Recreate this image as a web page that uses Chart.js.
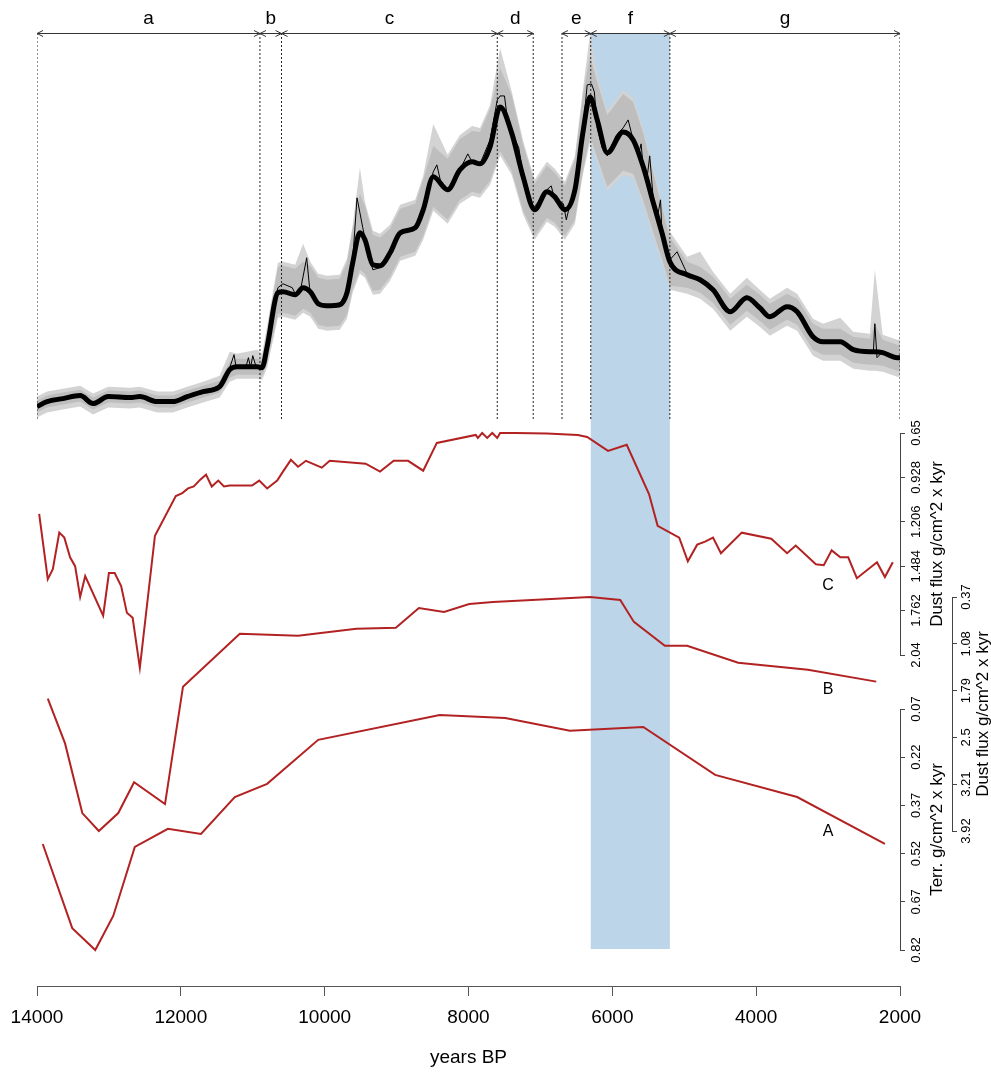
<!DOCTYPE html>
<html>
<head>
<meta charset="utf-8">
<script src="https://cdn.jsdelivr.net/npm/chart.js@4.4.1/dist/chart.umd.min.js"></script>
<style>
  html, body { margin: 0; padding: 0; background: #fff; }
  #wrap { position: relative; width: 991px; height: 1072px; }
  #wrap canvas { position: absolute; left: 0; }
</style>
</head>
<body>
<div id="wrap">
  <canvas id="main" width="991" height="1072" style="top:0"></canvas>
  <canvas id="dustC" width="991" height="282" style="top:403px"></canvas>
  <canvas id="dustB" width="991" height="294" style="top:567px"></canvas>
  <canvas id="terrA" width="991" height="301" style="top:679px"></canvas>
</div>
<script>
const FONT = "'Liberation Sans', Arial, Helvetica, sans-serif";
const RED = 'rgb(178,34,34)';

// top panel (no axis, arbitrary index units)
const topYears = [14000, 13860, 13640, 13400, 13220, 13010, 12710, 12570, 12330, 12110,
  11910, 11690, 11460, 11320, 11220, 10940, 10870, 10800, 10650, 10580,
  10410, 10300, 10200, 10090, 9970, 9790, 9690, 9610, 9510, 9440,
  9330, 9230, 9090, 8950, 8740, 8630, 8490, 8290, 8120, 7950,
  7840, 7700, 7560, 7400, 7240, 7080, 6910, 6800, 6660, 6520,
  6410, 6310, 6210, 6070, 5850, 5710, 5570, 5430, 5310, 5200,
  4960, 4780, 4600, 4360, 4130, 3950, 3810, 3570, 3430, 3210,
  3070, 2830, 2650, 2420, 2350, 2240, 2040, 2000];
const smoothed = [3.25, 4.5, 5.25, 6, 4, 5.75, 5.5, 5.75, 4.5, 4.5,
  5.75, 7, 8.25, 12.5, 13.25, 13.25, 13, 18.25, 31.75, 32,
  31.25, 33, 32, 29, 28.5, 28.75, 31.75, 39.25, 46.75, 45,
  38.75, 38.5, 41.75, 46.75, 48, 52.5, 60.75, 57.5, 62.5, 64.5,
  64, 68.25, 78.25, 71.75, 60.75, 52.5, 57, 55.75, 52.5, 57.5,
  71.75, 80.75, 75, 66.75, 72, 70, 63.25, 54.25, 46.75, 39.5,
  36.25, 35, 32.5, 27, 30.5, 28, 25.75, 28.25, 27, 20.75,
  19.5, 19.5, 17.5, 17, 17, 16.75, 15.5, 15.5];
const innerHi = [4.75, 6, 6.75, 7.5, 5.5, 7.25, 7, 7.25, 6, 6,
  7.25, 8.5, 9.75, 14.5, 15.25, 15.25, 15, 22.25, 38.25, 38.5,
  37.75, 39.5, 38.5, 35.5, 35, 35.25, 39.25, 47.75, 56.5, 53.5,
  46.25, 45.5, 47.75, 52.75, 54, 60, 68.5, 65.25, 70.25, 72.25,
  72, 77.75, 88, 81.25, 68.75, 59, 63.5, 61.75, 58.5, 65,
  81.25, 91, 84.5, 76.25, 81.5, 79.5, 71.75, 61.75, 53.25, 45.5,
  39.5, 38.25, 35.75, 30.25, 33.75, 31.25, 29, 31.5, 30.25, 24,
  22.75, 22.75, 20.75, 20.25, 24, 20, 18.75, 18.75];
const innerLo = [1.75, 3, 3.75, 4.5, 2.5, 4.25, 4, 4.25, 3, 3,
  4.25, 5.5, 6.75, 10.5, 11.25, 11.25, 11, 14.25, 26.5, 26.75,
  26, 27.75, 26.75, 23.75, 23.25, 23.5, 26.25, 32.75, 37.5, 36.5,
  32.25, 32.5, 35.75, 40.75, 42, 46, 53.25, 50, 55, 57,
  56.5, 59.75, 67.25, 62.25, 52.25, 46, 50.5, 49.25, 46, 50,
  62.25, 71, 65.5, 58.25, 62.25, 61.5, 54.75, 46.75, 40.25, 33.5,
  33, 31.75, 29.25, 23.75, 27.25, 24.75, 22.5, 25, 23.75, 17.5,
  16.25, 16.25, 14.25, 13.75, 13.75, 13.5, 12.25, 12.25];
const outerHi = [5.75, 7, 7.75, 8.5, 6.5, 8.25, 8, 8.25, 7, 7,
  8.25, 9.5, 11, 17, 16.5, 17.5, 16.5, 23.5, 39.25, 39.5,
  38.75, 44, 39.5, 36.5, 36, 36.25, 40.25, 48.75, 63, 54.5,
  47.25, 46.5, 48.75, 53.75, 55, 61, 74, 66.25, 71.25, 73.5,
  73, 78.75, 93, 82.25, 69.75, 60, 64.5, 62.75, 59.5, 66,
  82.5, 96.5, 86, 77.25, 82.5, 80.5, 72.75, 62.75, 54.25, 47,
  40.75, 42, 37, 31.5, 35.5, 32.5, 30.25, 33, 31.5, 25.25,
  24, 25.5, 22, 21.5, 37.5, 21.25, 20, 20];
const outerLo = [0.5, 1.75, 2.5, 3.25, 1.25, 3, 2.75, 3, 1.75, 1.75,
  3, 4.25, 5.5, 9.5, 10.25, 10.25, 10, 13, 25.5, 25.75,
  25, 26.75, 25.75, 22.75, 22.25, 22.5, 25.25, 31.75, 36.5, 35.5,
  31.25, 31.5, 34.75, 39.75, 41, 45, 52.25, 49, 54, 56,
  55.5, 58.75, 66, 61.25, 51.25, 45, 49.5, 48.25, 45, 49,
  61.25, 69.5, 64.5, 57.25, 61.25, 60.5, 53.75, 45.75, 39.25, 32.5,
  31.5, 30.25, 27.75, 22.25, 25.75, 23.25, 21, 23.5, 22.25, 16,
  14.75, 14.75, 12.75, 12.25, 12.25, 12, 10.75, 10.75];

const rawYears = [14000, 13860, 13640, 13400, 13220, 13010, 12710, 12570, 12330, 12110,
  11910, 11690, 11460, 11380, 11320, 11260, 11230, 11090, 11060, 11030,
  11000, 10950, 10900, 10850, 10800, 10700, 10650, 10580, 10450, 10410,
  10330, 10250, 10210, 10100, 9970, 9790, 9690, 9610, 9550, 9470,
  9400, 9330, 9230, 9090, 8950, 8740, 8630, 8490, 8440, 8380,
  8290, 8120, 8010, 7950, 7840, 7700, 7600, 7560, 7500, 7450,
  7400, 7300, 7240, 7100, 7050, 6910, 6850, 6800, 6680, 6640,
  6600, 6520, 6410, 6350, 6290, 6250, 6210, 6140, 6070, 6000,
  5950, 5850, 5780, 5710, 5640, 5600, 5570, 5520, 5480, 5430,
  5380, 5330, 5310, 5250, 5200, 5150, 5100, 4960, 4780, 4600,
  4500, 4360, 4130, 3950, 3810, 3570, 3430, 3350, 3210, 3070,
  2830, 2650, 2420, 2370, 2350, 2320, 2240, 2100, 2040, 2000];
const rawVals = [3.5, 4.5, 5.5, 6, 4, 6, 5.5, 6, 4.5, 4.5,
  6, 7, 8.5, 10, 13, 16.25, 13, 13.5, 15.5, 13,
  16, 13, 12.5, 13.5, 19, 29, 33, 34, 33, 31.5,
  33, 40.5, 33, 29, 28, 29, 32, 40, 55.5, 48,
  42, 37.5, 38, 42, 47, 48, 52.5, 62, 63.75, 59,
  57, 62.5, 66.5, 64.5, 64, 70, 80, 81, 81, 74,
  72, 68, 61, 53, 54, 57.5, 58.5, 55, 54, 50,
  53, 58, 72, 83.75, 84, 82, 73, 68, 66, 69,
  71, 73, 75, 70, 66, 69, 63, 60, 66, 55,
  50, 55, 47, 42, 40, 41, 42, 36.5, 35, 32.5,
  30, 27, 31, 28, 25.5, 28.5, 27, 25, 21, 19.5,
  19.5, 17.5, 17, 17, 24, 15.5, 17, 15.5, 15.5, 15.5];

const phaseBounds = [14000, 10900, 10600, 7600, 7100, 6700, 6300, 5200, 2000];
const phaseStart = [14000, 10900, 10600, 7600, 6700, 6300, 5200];
const phaseEnd = [10900, 10600, 7600, 7100, 6300, 5200, 2000];
const phaseLabels = ['a', 'b', 'c', 'd', 'e', 'f', 'g'];
const shadeFrom = 6300, shadeTo = 5200;

// C: dust flux
const cYears = [13970, 13850, 13780, 13690, 13620, 13540, 13470, 13400, 13330, 13080,
  13000, 12920, 12830, 12750, 12670, 12570, 12360, 12070, 11980, 11900,
  11820, 11730, 11650, 11570, 11480, 11400, 11320, 11010, 10910, 10800,
  10660, 10580, 10470, 10370, 10260, 10040, 9930, 9430, 9230, 9040,
  8840, 8630, 8440, 7900, 7870, 7810, 7740, 7670, 7600, 7560,
  7350, 6910, 6480, 6350, 6060, 5800, 5490, 5370, 5070, 4950,
  4820, 4710, 4600, 4490, 4200, 3790, 3570, 3450, 3170, 3060,
  2950, 2830, 2720, 2600, 2320, 2210, 2100];
const cFlux = [1.156, 1.565, 1.503, 1.274, 1.305, 1.428, 1.484, 1.676, 1.546, 1.794,
  1.527, 1.527, 1.608, 1.776, 1.807, 2.12, 1.293, 1.045, 1.026, 0.997,
  0.985, 0.942, 0.911, 0.985, 0.948, 0.985, 0.979, 0.979, 0.948, 0.997,
  0.948, 0.892, 0.818, 0.861, 0.824, 0.867, 0.824, 0.842, 0.892, 0.824,
  0.824, 0.886, 0.712, 0.662, 0.681, 0.65, 0.681, 0.65, 0.681, 0.65,
  0.65, 0.653, 0.662, 0.675, 0.762, 0.724, 1.032, 1.231, 1.305, 1.453,
  1.349, 1.33, 1.305, 1.403, 1.274, 1.312, 1.403, 1.355, 1.472, 1.478,
  1.385, 1.428, 1.428, 1.559, 1.459, 1.552, 1.459];
const cTicks = [0.65, 0.928, 1.206, 1.484, 1.762, 2.04];

// B: dust flux
const bYears = [13850, 13610, 13370, 13140, 12870, 12650, 12220, 11970, 11180, 10370,
  9560, 9010, 8690, 8340, 7990, 7660, 6310, 5890, 5700, 5270, 4960, 4250, 3280, 2330];
const bFlux = [1.911, 2.591, 3.648, 3.92, 3.648, 3.18, 3.512, 1.73, 0.929, 0.959,
  0.853, 0.838, 0.536, 0.597, 0.476, 0.446, 0.37, 0.415, 0.748, 1.11, 1.11, 1.367, 1.473, 1.654];
const bTicks = [0.37, 1.08, 1.79, 2.5, 3.21, 3.92];

// A: terrigenous flux
const aYears = [13920, 13510, 13190, 12940, 12640, 12180, 11720, 11250, 10800, 10090,
  8400, 7490, 6590, 5570, 4570, 3430, 2210];
const aTerr = [0.49, 0.752, 0.82, 0.714, 0.499, 0.443, 0.459, 0.344, 0.303, 0.166,
  0.089, 0.098, 0.138, 0.126, 0.275, 0.344, 0.49];
const aTicks = [0.07, 0.22, 0.37, 0.52, 0.67, 0.82];

// top panel value range (no visible axis)
const topMin = -141.75, topMax = 96.75, guideBottom = -0.25, shadeBottom = -132.5;

Chart.defaults.font.family = FONT;
Chart.defaults.color = '#000';

const pts = (xs, ys) => xs.map((x, i) => ({x: x, y: ys[i]}));

const guidePts = [];
phaseBounds.forEach(b => {
  guidePts.push({x: b, y: topMax}, {x: b, y: guideBottom}, {x: b, y: null});
});

const mainDecor = {
  id: 'mainDecor',
  beforeDatasetsDraw(chart) {
    const {ctx, chartArea, scales} = chart;
    const xa = scales.x.getPixelForValue(shadeFrom);
    const xb = scales.x.getPixelForValue(shadeTo);
    const yb = scales.y.getPixelForValue(shadeBottom);
    ctx.save();
    ctx.fillStyle = '#bdd5e8';
    ctx.fillRect(Math.min(xa, xb), chartArea.top, Math.abs(xb - xa), yb - chartArea.top);
    ctx.restore();
  },
  afterDatasetsDraw(chart) {
    const {ctx, chartArea, scales} = chart;
    const y = chartArea.top + 0.5;
    ctx.save();
    ctx.strokeStyle = '#333';
    ctx.lineWidth = 1;
    ctx.fillStyle = '#000';
    ctx.font = '19px ' + FONT;
    ctx.textAlign = 'center';
    ctx.textBaseline = 'alphabetic';
    phaseLabels.forEach((lab, i) => {
      const p1 = scales.x.getPixelForValue(phaseStart[i]);
      const p2 = scales.x.getPixelForValue(phaseEnd[i]);
      const l = Math.min(p1, p2), r = Math.max(p1, p2);
      ctx.beginPath();
      ctx.moveTo(l, y); ctx.lineTo(r, y);
      ctx.moveTo(l + 6, y - 3); ctx.lineTo(l, y); ctx.lineTo(l + 6, y + 3);
      ctx.moveTo(r - 6, y - 3); ctx.lineTo(r, y); ctx.lineTo(r - 6, y + 3);
      ctx.stroke();
      ctx.fillText(lab, (l + r) / 2, chartArea.top - 9);
    });
    ctx.restore();
  }
};

const noLine = 'rgba(0,0,0,0)';
new Chart(document.getElementById('main'), {
  type: 'line',
  data: {
    datasets: [
      {data: pts(topYears, outerHi), fill: '+1', backgroundColor: '#d3d3d3', borderColor: noLine, borderWidth: 1, pointRadius: 0, order: 6},
      {data: pts(topYears, outerLo), fill: false, borderColor: noLine, borderWidth: 1, pointRadius: 0, order: 6},
      {data: pts(topYears, innerHi), fill: '+1', backgroundColor: '#bebebe', borderColor: noLine, borderWidth: 1, pointRadius: 0, order: 5},
      {data: pts(topYears, innerLo), fill: false, borderColor: noLine, borderWidth: 1, pointRadius: 0, order: 5},
      {data: guidePts, borderColor: '#222', borderWidth: 1, borderDash: [2, 2], pointRadius: 0, spanGaps: false, order: 3},
      {data: pts(rawYears, rawVals), borderColor: '#000', borderWidth: 1, pointRadius: 0, order: 2},
      {data: pts(topYears, smoothed), borderColor: '#000', borderWidth: 5, pointRadius: 0, cubicInterpolationMode: 'monotone', order: 1}
    ]
  },
  options: {
    responsive: false,
    animation: false,
    devicePixelRatio: 1,
    events: [],
    layout: {padding: {left: 37, right: 91, top: 33, bottom: 0}},
    plugins: {legend: {display: false}, tooltip: {enabled: false}},
    scales: {
      x: {
        type: 'linear', min: 2000, max: 14000, reverse: true,
        afterFit(s) { s.height = 86; },
        grid: {drawOnChartArea: false, drawTicks: true, tickLength: 10, color: '#555'},
        border: {display: true, color: '#555'},
        ticks: {stepSize: 2000, autoSkip: false, maxRotation: 0, padding: 10, color: '#000', font: {size: 19},
          callback: v => String(v)},
        title: {display: true, text: 'years BP', color: '#000', font: {size: 19}, padding: {top: 0, bottom: 3}}
      },
      y: {type: 'linear', display: false, min: topMin, max: topMax}
    }
  },
  plugins: [mainDecor]
});

const panelText = {
  id: 'panelText',
  afterDraw(chart, args, o) {
    const {ctx} = chart;
    const s = chart.scales.y, x = chart.scales.x;
    ctx.save();
    ctx.fillStyle = '#000';
    ctx.font = '17px ' + FONT;
    ctx.textAlign = 'center';
    ctx.textBaseline = 'middle';
    ctx.translate(s.left + o.titleOffset, (s.top + s.bottom) / 2);
    ctx.rotate(-Math.PI / 2);
    ctx.fillText(o.title, 0, 0);
    ctx.restore();
    ctx.save();
    ctx.fillStyle = '#000';
    ctx.font = '16px ' + FONT;
    ctx.textAlign = 'center';
    ctx.textBaseline = 'middle';
    ctx.fillText(o.label, x.getPixelForValue(o.labelYear), s.getPixelForValue(o.labelValue));
    ctx.restore();
  }
};

function drawPanel(id, cfg) {
  const scales = {
    x: {type: 'linear', min: 2000, max: 14000, reverse: true, display: false}
  };
  scales.y = {
    type: 'linear', position: 'right', reverse: true, weight: 1,
    min: cfg.ticks[0], max: cfg.ticks[cfg.ticks.length - 1],
    afterFit(s) { s.width = cfg.width; },
    afterBuildTicks(s) { s.ticks = cfg.ticks.map(v => ({value: v})); },
    grid: {drawOnChartArea: false, drawTicks: true, tickLength: 5, color: '#444'},
    border: {display: true, color: '#444'},
    ticks: {minRotation: 90, maxRotation: 90, crossAlign: 'center', padding: cfg.pad, color: '#000',
      font: {size: 13}, callback: v => String(v)}
  };
  if (cfg.gap) {
    scales.gap = {type: 'linear', position: 'right', display: false, weight: 0, min: 0, max: 1,
      afterFit(s) { s.width = cfg.gap; }};
  }
  new Chart(document.getElementById(id), {
    type: 'line',
    data: {datasets: [{data: pts(cfg.years, cfg.vals), xAxisID: 'x', yAxisID: 'y', borderColor: RED, borderWidth: 2,
      pointRadius: 0, clip: false, tension: 0}]},
    options: {
      responsive: false,
      animation: false,
      devicePixelRatio: 1,
      events: [],
      layout: {padding: {left: 37, right: 0, top: 30, bottom: 30}},
      scales: scales,
      plugins: {legend: {display: false}, tooltip: {enabled: false}, panelText: cfg.text}
    },
    plugins: [panelText]
  });
}

drawPanel('dustC', {years: cYears, vals: cFlux, ticks: cTicks, width: 91, pad: -4.8,
  text: {title: 'Dust flux g/cm^2 x kyr', titleOffset: 37, label: 'C', labelYear: 3000, labelValue: 1.608}});
drawPanel('dustB', {years: bYears, vals: bFlux, ticks: bTicks, width: 39, gap: 52, pad: -3.6,
  text: {title: 'Dust flux g/cm^2 x kyr', titleOffset: 31, label: 'B', labelYear: 3000, labelValue: 1.78}});
drawPanel('terrA', {years: aYears, vals: aTerr, ticks: aTicks, width: 91, pad: -1.2,
  text: {title: 'Terr. g/cm^2 x kyr', titleOffset: 37, label: 'A', labelYear: 3000, labelValue: 0.45}});
</script>
</body>
</html>
